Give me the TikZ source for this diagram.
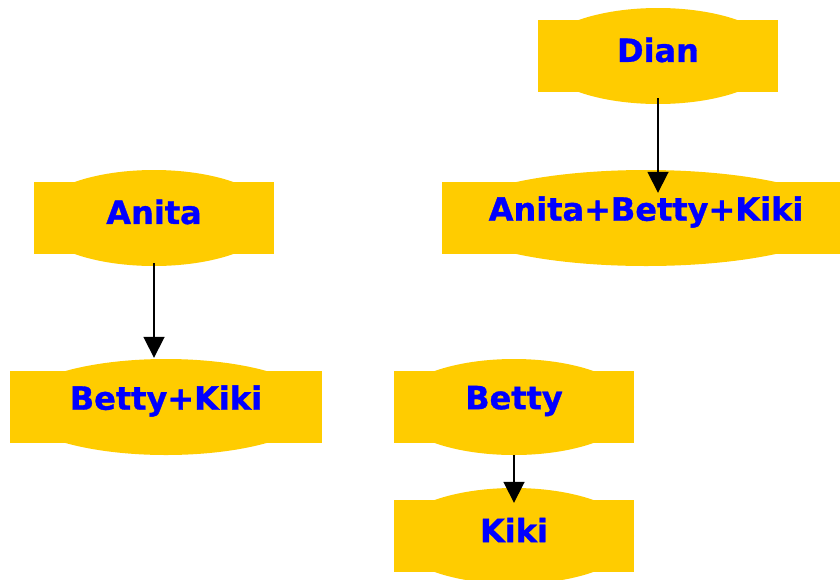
\documentclass[tikz,border=0pt]{standalone}
\usepackage{fontspec}
\setmainfont{DejaVu Sans}[BoldFeatures={FakeBold=1}]
\usetikzlibrary{arrows.meta,calc,backgrounds}
\definecolor{boxfill}{HTML}{FFCC00}
\definecolor{boxtext}{HTML}{0000FF}
\tikzset{
  box/.style={fill=boxfill, inner sep=0pt, minimum height=72pt},
  lbl/.style={text=boxtext, inner sep=0pt, font=\fontsize{32}{32}\selectfont\bfseries},
  arr/.style={line width=1.8pt, -{Triangle[width=21pt,length=21pt]}}
}
\begin{document}
\begin{tikzpicture}[x=1pt,y=-1pt]
\useasboundingbox (0,0) rectangle (840,579);
\begin{scope}
\clip (0,0) rectangle (840,579);
\node[box, minimum width=240pt] (dian) at (658,56) {};
\node[box, minimum width=240pt] (anita) at (154,218) {};
\node[box, minimum width=408pt] (abk) at (646,218) {};
\node[box, minimum width=312pt] (bk) at (166,407) {};
\node[box, minimum width=240pt] (betty) at (514,407) {};
\node[box, minimum width=240pt] (kiki) at (514,536) {};
\begin{scope}[on background layer]
\fill[boxfill] (dian.center) ellipse (120 and 48);
\fill[boxfill] (anita.center) ellipse (120 and 48);
\fill[boxfill] (abk.center) ellipse (196 and 48);
\fill[boxfill] (bk.center) ellipse (152 and 48);
\fill[boxfill] (betty.center) ellipse (120 and 48);
\fill[boxfill] (kiki.center) ellipse (120 and 48);
\end{scope}
\end{scope}
\node[lbl] (tdian) at ($(dian.center)+(0,-6)$) {Dian};
\node[lbl] (tanita) at ($(anita.center)+(0,-6)$) {Anita};
\node[lbl] (tabk) at ($(abk.center)+(0,-6)$) {Anita+Betty+Kiki};
\node[lbl] (tbk) at ($(bk.center)+(0,-6)$) {Betty+Kiki};
\node[lbl] (tbetty) at ($(betty.center)+(0,-6)$) {Betty};
\node[lbl] (tkiki) at ($(kiki.center)+(0,-6)$) {Kiki};
\draw[arr] ($(dian.south)+(0,6)$) -- ($(dian.south |- abk.north)+(0,11)$);
\draw[arr] ($(anita.south)+(0,9)$) -- ($(anita.south |- bk.north)+(0,-13)$);
\draw[arr] ($(betty.south)+(0,12)$) -- ($(kiki.north)+(0,3)$);
\end{tikzpicture}
\end{document}
